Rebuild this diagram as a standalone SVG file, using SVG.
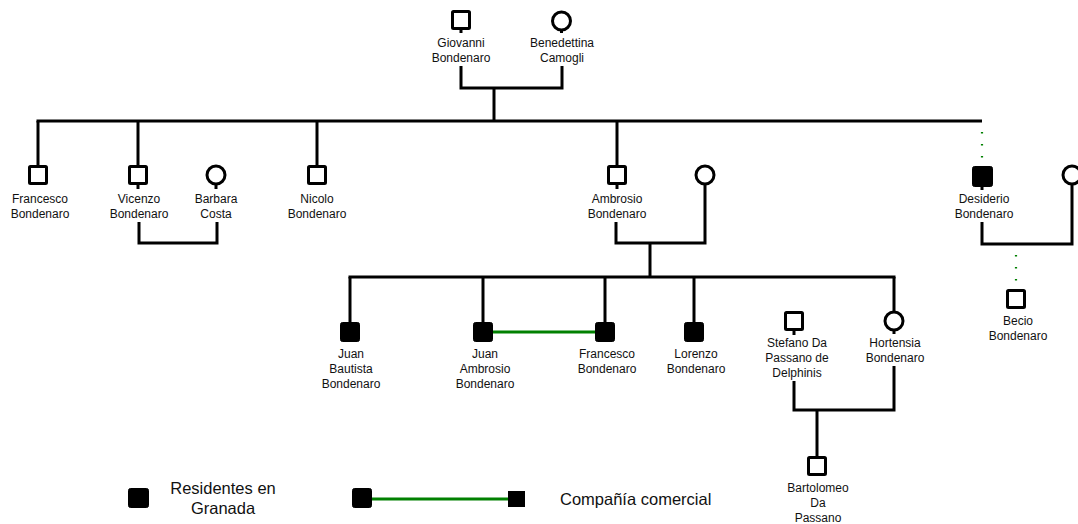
<svg xmlns="http://www.w3.org/2000/svg" width="1078" height="524" viewBox="0 0 1078 524">
<style>
.m{fill:#fff;stroke:#000;stroke-width:3}
.f{fill:#000;stroke:#000;stroke-width:1}
.c{fill:#fff;stroke:#000;stroke-width:3}
.l{fill:none;stroke:#000;stroke-width:3;stroke-linejoin:miter}
.g{fill:none;stroke:#008000;stroke-width:3}
.d{fill:none;stroke:#008000;stroke-width:2.2;stroke-dasharray:1.5 10.5}
text{font-family:"Liberation Sans",Arial,sans-serif;font-size:12px;fill:#111;text-anchor:middle}
.lg{font-size:16.5px}
</style>
<g id="connectors">
<polyline class="l" points="461,66 461,88 562,88 562,66"/>
<line class="l" x1="494" y1="88" x2="494" y2="121"/>
<line class="l" x1="36.5" y1="121" x2="982" y2="121"/>
<line class="l" x1="38" y1="121" x2="38" y2="166"/>
<line class="l" x1="138" y1="121" x2="138" y2="166"/>
<line class="l" x1="317" y1="121" x2="317" y2="166"/>
<line class="l" x1="617" y1="121" x2="617" y2="166"/>
<line class="d" x1="982" y1="132" x2="982" y2="162"/>
<polyline class="l" points="139,222 139,243 217,243 217,222"/>
<polyline class="l" points="616,222 616,243 705,243 705,185"/>
<line class="l" x1="650" y1="243" x2="650" y2="277"/>
<polyline class="l" points="982,222 982,244 1072,244 1072,185"/>
<line class="d" x1="1016" y1="255" x2="1016" y2="285"/>
<line class="l" x1="348.5" y1="277" x2="895.5" y2="277"/>
<line class="l" x1="350" y1="277" x2="350" y2="322"/>
<line class="l" x1="483" y1="277" x2="483" y2="322"/>
<line class="l" x1="605" y1="277" x2="605" y2="322"/>
<line class="l" x1="694" y1="277" x2="694" y2="322"/>
<line class="l" x1="894" y1="277" x2="894" y2="312"/>
<line class="g" x1="493" y1="332" x2="595" y2="332"/>
<polyline class="l" points="794,381 794,410 894,410 894,366"/>
<line class="l" x1="817" y1="410" x2="817" y2="457"/>
</g>
<g id="giovanni"><rect class="m" x="452.5" y="11.5" width="17" height="17" rx="1"/><line class="l" x1="461" y1="30" x2="461" y2="33"/><text x="461" y="47">Giovanni</text><text x="461" y="62">Bondenaro</text></g>
<g id="benedettina"><circle class="c" cx="561.5" cy="21" r="9"/><line class="l" x1="561.5" y1="30" x2="561.5" y2="33"/><text x="562" y="47">Benedettina</text><text x="562" y="62">Camogli</text></g>
<g id="francesco1"><rect class="m" x="29.5" y="166.5" width="17" height="17" rx="1"/><text x="40" y="203">Francesco</text><text x="40" y="218">Bondenaro</text></g>
<g id="vicenzo"><rect class="m" x="129.5" y="166.5" width="17" height="17" rx="1"/><line class="l" x1="138" y1="185" x2="138" y2="189"/><text x="139" y="203">Vicenzo</text><text x="139" y="218">Bondenaro</text></g>
<g id="barbara"><circle class="c" cx="216" cy="175" r="9"/><line class="l" x1="216" y1="184" x2="216" y2="189"/><text x="216" y="203">Barbara</text><text x="216" y="218">Costa</text></g>
<g id="nicolo"><rect class="m" x="308.5" y="166.5" width="17" height="17" rx="1"/><text x="317" y="203">Nicolo</text><text x="317" y="218">Bondenaro</text></g>
<g id="ambrosio"><rect class="m" x="608.5" y="166.5" width="17" height="17" rx="1"/><line class="l" x1="617" y1="185" x2="617" y2="189"/><text x="617" y="203">Ambrosio</text><text x="617" y="218">Bondenaro</text></g>
<g id="ambrosio-wife"><circle class="c" cx="705" cy="175" r="9"/></g>
<g id="desiderio"><rect class="f" x="972.5" y="166.5" width="20" height="20" rx="2"/><line class="l" x1="982" y1="186" x2="982" y2="190"/><text x="984" y="203">Desiderio</text><text x="984" y="218">Bondenaro</text></g>
<g id="desiderio-wife"><circle class="c" cx="1072" cy="175" r="9"/></g>
<g id="becio"><rect class="m" x="1007.5" y="290.5" width="17" height="17" rx="1"/><text x="1018" y="325">Becio</text><text x="1018" y="340">Bondenaro</text></g>
<g id="juan-bautista"><rect class="f" x="340.5" y="322.5" width="19" height="19" rx="2"/><text x="351" y="358">Juan</text><text x="351" y="373">Bautista</text><text x="351" y="388">Bondenaro</text></g>
<g id="juan-ambrosio"><rect class="f" x="473.5" y="322.5" width="19" height="19" rx="2"/><text x="485" y="358">Juan</text><text x="485" y="373">Ambrosio</text><text x="485" y="388">Bondenaro</text></g>
<g id="francesco2"><rect class="f" x="595.5" y="322.5" width="19" height="19" rx="2"/><text x="607" y="358">Francesco</text><text x="607" y="373">Bondenaro</text></g>
<g id="lorenzo"><rect class="f" x="684.5" y="322.5" width="19" height="19" rx="2"/><text x="696" y="358">Lorenzo</text><text x="696" y="373">Bondenaro</text></g>
<g id="stefano"><rect class="m" x="785.5" y="312.5" width="17" height="17" rx="1"/><line class="l" x1="794" y1="331" x2="794" y2="335"/><text x="797" y="347">Stefano Da</text><text x="797" y="362">Passano de</text><text x="797" y="377">Delphinis</text></g>
<g id="hortensia"><circle class="c" cx="894" cy="321" r="9"/><line class="l" x1="894" y1="330" x2="894" y2="334"/><text x="895" y="347">Hortensia</text><text x="895" y="362">Bondenaro</text></g>
<g id="bartolomeo"><rect class="m" x="808.5" y="457.5" width="17" height="17" rx="1"/><text x="818" y="492">Bartolomeo</text><text x="818" y="507">Da</text><text x="818" y="522">Passano</text></g>
<g id="legend">
<rect class="f" x="128.5" y="488.5" width="20" height="19" rx="2"/>
<text class="lg" x="223" y="494">Residentes en</text>
<text class="lg" x="223" y="514">Granada</text>
<line class="g" x1="370" y1="499" x2="510" y2="499"/>
<rect class="f" x="352.5" y="488.5" width="19" height="19" rx="2"/>
<rect x="508" y="491" width="17" height="16" fill="#000"/>
<text class="lg" x="560" y="505" style="text-anchor:start">Compañía comercial</text>
</g>
</svg>
